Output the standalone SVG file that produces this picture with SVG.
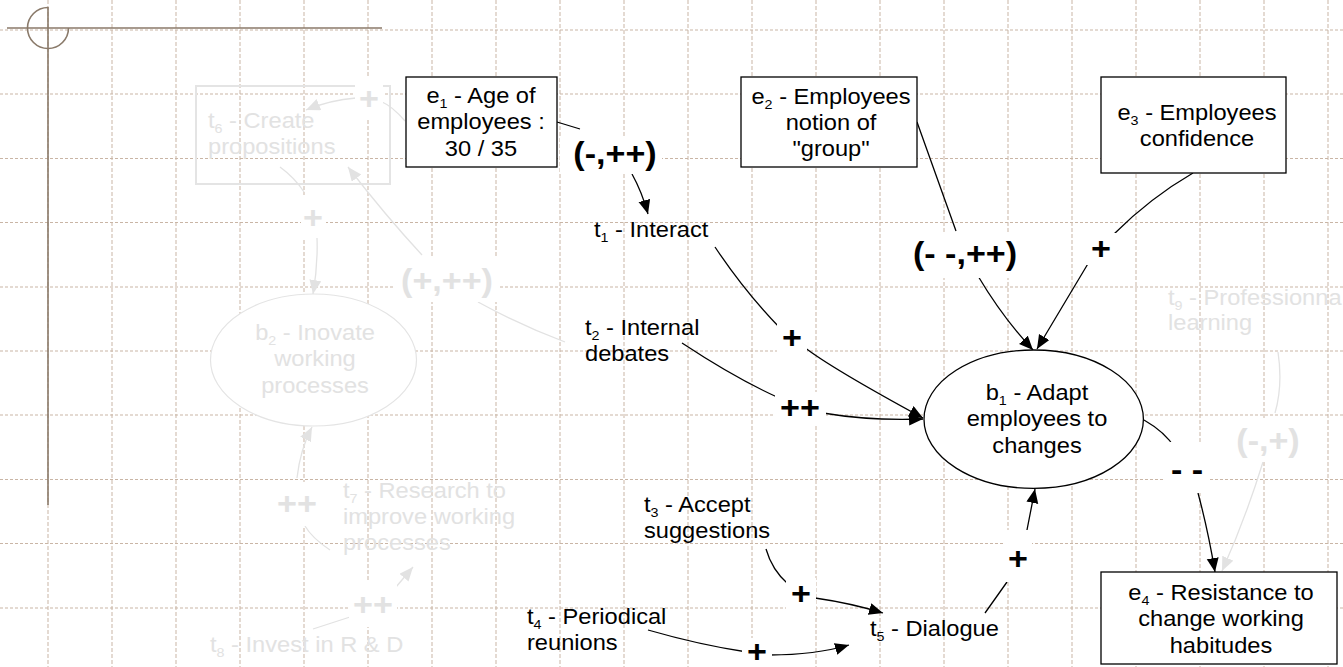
<svg xmlns="http://www.w3.org/2000/svg" width="1343" height="667" viewBox="0 0 1343 667">
<style>
.gh{fill:none;stroke:#c9b5a5;stroke-width:1;stroke-dasharray:3 2}
.gv{fill:none;stroke:#c9b5a5;stroke-width:1;stroke-dasharray:4 2}
.deco{fill:none;stroke:#8a7a6a;stroke-width:1.6}
.t{font-family:"Liberation Sans",Arial,sans-serif;font-size:21.5px;fill:#000}
.tf{font-family:"Liberation Sans",Arial,sans-serif;font-size:21.5px;fill:#e2e2e2}
.s{font-size:13px}
.lab{font-family:"Liberation Sans",Arial,sans-serif;font-size:31px;font-weight:bold;fill:#000;text-anchor:middle}
.labf{font-family:"Liberation Sans",Arial,sans-serif;font-size:31px;font-weight:bold;fill:#e2e2e2;text-anchor:middle}
.lb{fill:#fff;stroke:none}
.c{fill:none;stroke:#000;stroke-width:1.3;marker-end:url(#ah)}
.cf{fill:none;stroke:#e2e2e2;stroke-width:1.3;marker-end:url(#ahf)}
.box{fill:#fff;stroke:#000;stroke-width:1.3}
.boxf{fill:none;stroke:#e4e4e4;stroke-width:2}
.ellf{fill:#fff;stroke:#e4e4e4;stroke-width:1.2}
</style>
<defs>
<marker id="ah" markerUnits="userSpaceOnUse" markerWidth="16" markerHeight="14" refX="14" refY="6" orient="auto"><path d="M0,0 L14,6 L0,12 Z" fill="#000"/></marker>
<marker id="ahf" markerUnits="userSpaceOnUse" markerWidth="16" markerHeight="14" refX="14" refY="6" orient="auto"><path d="M0,0 L14,6 L0,12 Z" fill="#e2e2e2"/></marker>
</defs>
<rect width="1343" height="667" fill="#fff"/>
<g id="grid">
<path class="gh" d="M0,30H1343M0,94H1343M0,158.5H1343M0,222.5H1343M0,287H1343M0,351H1343M0,415H1343M0,479.5H1343M0,543.5H1343M0,608H1343"/>
<path class="gv" d="M48,0V667M112,0V667M176,0V667M240,0V667M304,0V667M368,0V667M432,0V667M496,0V667M560,0V667M624,0V667M688,0V667M752,0V667M816,0V667M880,0V667M944,0V667M1008,0V667M1072,0V667M1136,0V667M1200,0V667M1264,0V667M1328,0V667"/>
</g>
<g id="decoration">
<path class="deco" d="M7,28H382M48,7V505"/>
<path class="deco" d="M48,7.5 A20.5,20.5 0 1 0 68.5,28"/>
</g>
<g id="t6">
<rect class="boxf" x="196" y="86" width="194" height="98"/>
<text class="tf" transform="translate(208 128) scale(1.1 1)">t<tspan class="s" dy="5">6</tspan><tspan dy="-5"> - Create</tspan><tspan x="0" dy="26.5">propositions</tspan></text>
</g>
<g id="connectors">
<path class="c" d="M557,122 L580,129 M632,174 Q642,192 648,214"/>
<path class="c" d="M715,247 Q745,292 780,328 M804,347 Q831,368 923,418"/>
<path class="c" d="M682,343 Q735,378 777,397 M823,413 Q870,421 923,419"/>
<path class="c" d="M917,122 L956,231 M978,276 Q1003,318 1033,350"/>
<path class="c" d="M1193,173 Q1150,198 1114,234 M1089,262 L1037,349"/>
<path class="c" d="M1144,420 Q1165,432 1175,448 M1198,493 Q1208,530 1215,572"/>
<path class="c" d="M766,549 Q772,570 788,584 M815,598 Q850,603 883,613"/>
<path class="c" d="M648,630 Q700,645 747,652 M770,655 Q815,655 849,645"/>
<path class="c" d="M985,613 L1007,582 M1026,535 L1035,489"/>
<path class="cf" d="M405,121 Q392,106 382,102 M356,98 Q330,100 306,110"/>
<path class="cf" d="M280,167 Q295,178 304,192 M317,238 Q318,265 313,294"/>
<path class="cf" d="M565,342 Q520,325 478,302 M422,255 Q385,215 348,167"/>
<path class="cf" d="M330,550 Q312,538 305,526 M297,478 Q300,450 312,427"/>
<path class="cf" d="M313,629 L350,617 M396,587 L413,567"/>
<path class="cf" d="M1278,352 Q1283,385 1275,413 M1263,462 Q1245,520 1222,571"/>
</g>
<g id="labels">
<rect class="lb" x="560" y="138" width="102" height="36"/><text class="lab" transform="translate(615 164) scale(1.1 1)">(-,++)</text>
<rect class="lb" x="777" y="320" width="30" height="35"/><text class="lab" transform="translate(792 348) scale(1.1 1)">+</text>
<rect class="lb" x="775" y="392" width="51" height="32"/><text class="lab" transform="translate(800 418) scale(1.1 1)">++</text>
<rect class="lb" x="910" y="234" width="110" height="44"/><text class="lab" transform="translate(965 264) scale(1.1 1)">(- -,++)</text>
<rect class="lb" x="1086" y="233" width="30" height="32"/><text class="lab" transform="translate(1101 259) scale(1.1 1)">+</text>
<rect class="lb" x="1165" y="442" width="45" height="51"/><text class="lab" transform="translate(1187 480) scale(1.1 1)">- -</text>
<rect class="lb" x="786" y="578" width="30" height="32"/><text class="lab" transform="translate(801 604) scale(1.1 1)">+</text>
<rect class="lb" x="742" y="638" width="30" height="29"/><text class="lab" transform="translate(757 662) scale(1.1 1)">+</text>
<rect class="lb" x="1004" y="530" width="28" height="52"/><text class="lab" transform="translate(1018 569) scale(1.1 1)">+</text>
<rect class="lb" x="355" y="78" width="28" height="40"/><text class="labf" transform="translate(369 109) scale(1.1 1)">+</text>
<rect class="lb" x="301" y="195" width="25" height="43"/><text class="labf" transform="translate(313 227.5) scale(1.1 1)">+</text>
<rect class="lb" x="393" y="256" width="105" height="46"/><text class="labf" transform="translate(447 291) scale(1.1 1)">(+,++)</text>
<rect class="lb" x="274" y="482" width="46" height="44"/><text class="labf" transform="translate(297 514) scale(1.1 1)">++</text>
<rect class="lb" x="349" y="582" width="48" height="45"/><text class="labf" transform="translate(373 615) scale(1.1 1)">++</text>
<rect class="lb" x="1234" y="418" width="68" height="44"/><text class="labf" transform="translate(1268 451) scale(1.1 1)">(-,+)</text>
</g>
<g id="b2">
<ellipse class="ellf" cx="313.5" cy="360" rx="103" ry="66"/>
<text class="tf" text-anchor="middle" transform="translate(315 339.5) scale(1.1 1)">b<tspan class="s" dy="5">2</tspan><tspan dy="-5"> - Inovate</tspan><tspan x="0" dy="27">working</tspan><tspan x="0" dy="26.5">processes</tspan></text>
</g>
<g id="t7">
<text class="tf" transform="translate(343 498) scale(1.1 1)">t<tspan class="s" dy="5">7</tspan><tspan dy="-5"> - Research to</tspan><tspan x="0" dy="26.5">improve working</tspan><tspan x="0" dy="26">processes</tspan></text>
</g>
<g id="t8">
<text class="tf" transform="translate(210 651.5) scale(1.1 1)">t<tspan class="s" dy="5">8</tspan><tspan dy="-5"> - Invest in R &amp; D</tspan></text>
</g>
<g id="t9">
<text class="tf" transform="translate(1168 305) scale(1.1 1)">t<tspan class="s" dy="5">9</tspan><tspan dy="-5"> - Professionna</tspan><tspan x="0" dy="25">learning</tspan></text>
</g>
<g id="e1">
<rect class="box" x="406" y="77" width="151" height="90"/>
<text class="t" text-anchor="middle" transform="translate(481 103) scale(1.1 1)">e<tspan class="s" dy="5">1</tspan><tspan dy="-5"> - Age of</tspan><tspan x="0" dy="26.5">employees :</tspan><tspan x="0" dy="26.5">30 / 35</tspan></text>
</g>
<g id="e2">
<rect class="box" x="741" y="77" width="176" height="90"/>
<text class="t" text-anchor="middle" transform="translate(831 103.5) scale(1.1 1)">e<tspan class="s" dy="5">2</tspan><tspan dy="-5"> - Employees</tspan><tspan x="0" dy="26.5">notion of</tspan><tspan x="0" dy="26.5">"group"</tspan></text>
</g>
<g id="e3">
<rect class="box" x="1101" y="77" width="185" height="96"/>
<text class="t" text-anchor="middle" transform="translate(1197 119.5) scale(1.1 1)">e<tspan class="s" dy="5">3</tspan><tspan dy="-5"> - Employees</tspan><tspan x="0" dy="26.5">confidence</tspan></text>
</g>
<g id="e4">
<rect class="box" x="1101" y="572" width="236" height="92"/>
<text class="t" text-anchor="middle" transform="translate(1221 600) scale(1.1 1)">e<tspan class="s" dy="5">4</tspan><tspan dy="-5"> - Resistance to</tspan><tspan x="0" dy="26.5">change working</tspan><tspan x="0" dy="26.5">habitudes</tspan></text>
</g>
<g id="b1">
<ellipse class="box" cx="1033.7" cy="419.2" rx="109.7" ry="69.2"/>
<text class="t" text-anchor="middle" transform="translate(1037 400) scale(1.1 1)">b<tspan class="s" dy="5">1</tspan><tspan dy="-5"> - Adapt</tspan><tspan x="0" dy="26.5">employees to</tspan><tspan x="0" dy="26.5">changes</tspan></text>
</g>
<g id="t1">
<text class="t" transform="translate(594 236.5) scale(1.1 1)">t<tspan class="s" dy="5">1</tspan><tspan dy="-5"> - Interact</tspan></text>
</g>
<g id="t2">
<text class="t" transform="translate(585 335) scale(1.1 1)">t<tspan class="s" dy="5">2</tspan><tspan dy="-5"> - Internal</tspan><tspan x="0" dy="26.5">debates</tspan></text>
</g>
<g id="t3">
<text class="t" transform="translate(644 511.5) scale(1.1 1)">t<tspan class="s" dy="5">3</tspan><tspan dy="-5"> - Accept</tspan><tspan x="0" dy="26.5">suggestions</tspan></text>
</g>
<g id="t4">
<text class="t" transform="translate(527 623.5) scale(1.1 1)">t<tspan class="s" dy="5">4</tspan><tspan dy="-5"> - Periodical</tspan><tspan x="0" dy="26.5">reunions</tspan></text>
</g>
<g id="t5">
<text class="t" transform="translate(870 636) scale(1.1 1)">t<tspan class="s" dy="5">5</tspan><tspan dy="-5"> - Dialogue</tspan></text>
</g>
</svg>
